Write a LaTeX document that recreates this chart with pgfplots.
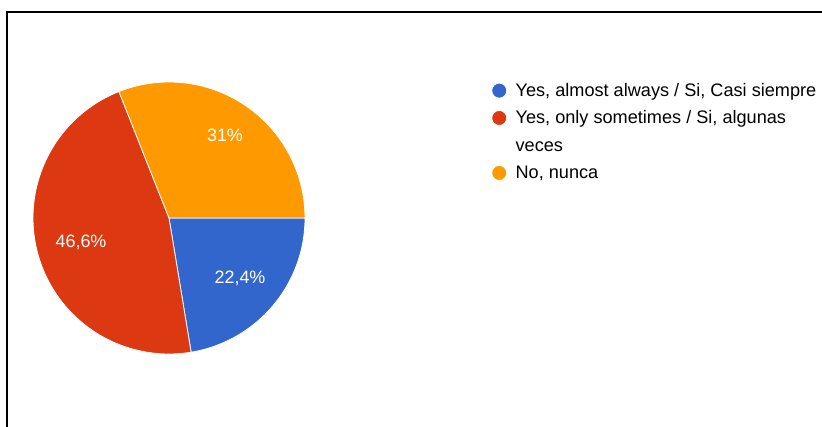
\documentclass[border=0pt]{standalone}
\usepackage{fontspec}
\setmainfont{Liberation Sans}
\usepackage{pgfplots}
\pgfplotsset{compat=1.18}
\definecolor{gblue}{HTML}{3366CC}
\definecolor{gred}{HTML}{DC3912}
\definecolor{gorange}{HTML}{FF9900}
\pgfplotsset{raisedlegend/.style={legend image code/.code={\fill[##1] (0.1cm,14bp) circle (7.5bp);}}}
% shares (percent)
\def\va{22.4}
\def\vb{46.6}
\def\vc{31}
\pgfmathsetmacro{\aA}{-3.6*\va}
\pgfmathsetmacro{\aB}{\aA-3.6*\vb}
\pgfmathsetmacro{\aC}{\aB-3.6*\vc}
\def\cx{169}\def\cy{209}\def\rr{136}
\begin{document}
\begin{tikzpicture}
\begin{axis}[
  at={(0,0)}, anchor=south west,
  scale only axis, width=822bp, height=427bp,
  xmin=0, xmax=822, ymin=0, ymax=427,
  hide axis, clip=false,
  samples=90,
  legend cell align=left,
  legend image code/.code={\fill[#1] (0.1cm,0cm) circle (7.5bp);},
  legend style={draw=none, fill=none, at={(0.5975,0.81)}, anchor=north west,
    font=\fontsize{18.2}{26}\selectfont, row sep=8.5bp, inner sep=0pt,
    nodes={align=left, inner xsep=8.5bp}},
]
\addplot[fill=gblue, draw=white, line width=0.8bp, domain=0:\aA]
  ({\cx+\rr*cos(x)},{\cy+\rr*sin(x)}) -- (axis cs:\cx,\cy) -- cycle;
\addlegendentry{Yes, almost always / Si, Casi siempre}
\addplot[fill=gred, draw=white, line width=0.8bp, domain=\aA:\aB, raisedlegend]
  ({\cx+\rr*cos(x)},{\cy+\rr*sin(x)}) -- (axis cs:\cx,\cy) -- cycle;
\addlegendentry{Yes, only sometimes / Si, algunas\\[2.5bp]veces}
\addplot[fill=gorange, draw=white, line width=0.8bp, domain=\aB:\aC]
  ({\cx+\rr*cos(x)},{\cy+\rr*sin(x)}) -- (axis cs:\cx,\cy) -- cycle;
\addlegendentry{No, nunca}
\node[white, font=\fontsize{18}{21}\selectfont] at (axis cs:225,292) {31\%};
\node[white, font=\fontsize{18}{21}\selectfont] at (axis cs:81,185) {46,6\%};
\node[white, font=\fontsize{18}{21}\selectfont] at (axis cs:240,149) {22,4\%};
\draw[black, line width=2.5bp] (axis cs:7,-5) -- (axis cs:7,415) -- (axis cs:830,415);
\end{axis}
\pgfresetboundingbox
\path (0,0) rectangle (822bp,427bp);
\end{tikzpicture}
\end{document}
